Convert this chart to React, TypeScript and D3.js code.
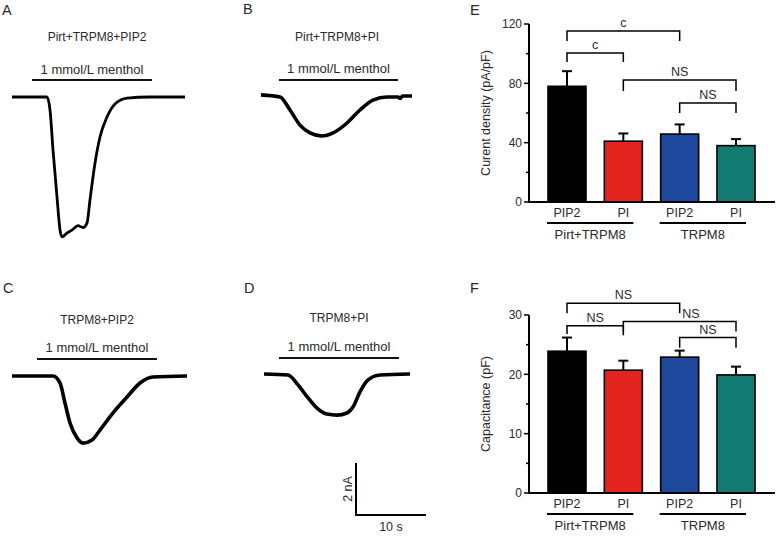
import * as d3 from 'd3';

// ---------------------------------------------------------------------------
// Data
// ---------------------------------------------------------------------------

// Current traces: [time (s), current (nA)]
const TRACE_A: [number, number][] = [
  [0, 0], [5.0, 0], [5.43, -0.5], [5.86, -2.04], [6.43, -3.85], [6.86, -5.12],
  [7.14, -5.38], [7.86, -5.23], [8.57, -5.12], [9.43, -4.95], [10.14, -5.02],
  [10.71, -4.85], [11.14, -3.96], [11.86, -2.54], [12.57, -1.54], [13.57, -0.77],
  [14.71, -0.27], [16.43, -0.04], [19.71, 0], [24.71, 0],
];
const TRACE_B: [number, number][] = [
  [0, 0.08], [2.71, 0], [4.14, -0.5], [5.57, -1.08], [7.0, -1.38], [8.71, -1.5],
  [10.29, -1.38], [12.29, -1.0], [14.14, -0.5], [16.0, -0.12], [18.0, 0],
  [19.57, 0], [19.9, -0.06], [20.2, 0.04], [21.57, 0.04],
];
const TRACE_C: [number, number][] = [
  [0, 0], [5.86, 0], [6.86, -0.27], [7.57, -1.04], [8.29, -1.81], [9.29, -2.38],
  [10.14, -2.58], [11.43, -2.46], [12.57, -2.08], [14.43, -1.42], [16.43, -0.81],
  [18.29, -0.27], [20.14, -0.04], [25.0, 0],
];
const TRACE_D: [number, number][] = [
  [0, 0], [3.43, -0.04], [4.86, -0.42], [6.29, -0.92], [7.57, -1.31], [9.0, -1.54],
  [10.43, -1.58], [11.86, -1.5], [12.71, -1.27], [13.71, -0.69], [14.86, -0.23],
  [16.57, -0.04], [20.86, 0],
];
const TRACE_TITLES = ['Pirt+TRPM8+PIP2', 'Pirt+TRPM8+PI', 'TRPM8+PIP2', 'TRPM8+PI'];
const MENTHOL: [number, number][] = [[2.86, 20], [2.57, 19.57], [3.57, 20.71], [2.14, 19.29]];
const SCALE_BAR = { seconds: 10, nA: 2 };

// Bar charts
const CATEGORIES = ['PIP2-a', 'PI-a', 'PIP2-b', 'PI-b'];
const CATEGORY_LABELS = ['PIP2', 'PI', 'PIP2', 'PI'];
const GROUPS = [
  { label: 'Pirt+TRPM8', from: 'PIP2-a', to: 'PI-a' },
  { label: 'TRPM8', from: 'PIP2-b', to: 'PI-b' },
];
const DENSITY = [78, 41, 45.8, 38];
const DENSITY_SEM = [10.2, 5.2, 6.5, 4.4];
const CAPACITANCE = [23.9, 20.7, 22.9, 19.9];
const CAPACITANCE_SEM = [2.3, 1.6, 1.1, 1.4];
const DENSITY_TICKS = [0, 40, 80, 120];
const CAPACITANCE_TICKS = [0, 10, 20, 30];

// [from, to, top, leftLegBottom, rightLegBottom, label, label position along bracket]
type Bracket = [string, string, number, number, number, string, number];
const DENSITY_BRACKETS: Bracket[] = [
  ['PIP2-a', 'PIP2-b', 115.3, 108.5, 108.5, 'c', 0.5],
  ['PIP2-a', 'PI-a', 100.5, 94.4, 94.4, 'c', 0.5],
  ['PI-a', 'PI-b', 82.2, 74.8, 74.8, 'NS', 0.5],
  ['PIP2-b', 'PI-b', 66.7, 60, 60, 'NS', 0.5],
];
const CAPACITANCE_BRACKETS: Bracket[] = [
  ['PIP2-a', 'PIP2-b', 32.0, 30.3, 30.3, 'NS', 0.5],
  ['PIP2-a', 'PI-a', 28.2, 26.8, 26.6, 'NS', 0.5],
  ['PI-a', 'PI-b', 28.9, 27.2, 27.2, 'NS', 0.6],
  ['PIP2-b', 'PI-b', 26.2, 24.5, 24.5, 'NS', 0.5],
];

// ---------------------------------------------------------------------------
// Style
// ---------------------------------------------------------------------------

const BAR_COLORS = ['#000000', '#e5231f', '#1e489c', '#137b72'];
const INK = '#111';
const TEXT = '#2a2a2a';
const FONT = '"Liberation Sans", Arial, sans-serif';
const PX_PER_S = 7;
const PX_PER_NA = 26;

// ---------------------------------------------------------------------------
// Trace panel
// ---------------------------------------------------------------------------

interface TraceProps {
  data: [number, number][];
  title: string;
  menthol: [number, number];
  x0: number;
  y0: number;
  titleX: number;
  titleY: number;
  mentholY: number;
  barY: number;
  width: number;
}

function Trace({ data, title, menthol, x0, y0, titleX, titleY, mentholY, barY, width }: TraceProps) {
  const x = d3.scaleLinear().domain([0, 1]).range([x0, x0 + PX_PER_S]);
  const y = d3.scaleLinear().domain([0, -1]).range([y0, y0 + PX_PER_NA]);
  const line = d3.line<[number, number]>()
    .x((d) => x(d[0]))
    .y((d) => y(d[1]))
    .curve(d3.curveMonotoneX);
  return (
    <g>
      <text x={titleX} y={titleY} textAnchor="middle" fontSize={12} fill={TEXT}>{title}</text>
      <text x={(x(menthol[0]) + x(menthol[1])) / 2} y={mentholY} textAnchor="middle" fontSize={13} fill={TEXT}>
        1 mmol/L menthol
      </text>
      <line x1={x(menthol[0])} x2={x(menthol[1])} y1={barY} y2={barY} stroke={INK} strokeWidth={2} />
      <path d={line(data) ?? ''} fill="none" stroke="#000" strokeWidth={width} strokeLinejoin="round" />
    </g>
  );
}

// ---------------------------------------------------------------------------
// Bar panel
// ---------------------------------------------------------------------------

interface BarPanelProps {
  values: number[];
  sem: number[];
  ticks: number[];
  brackets: Bracket[];
  yTop: number;
  yBottom: number;
  yLabel: string;
}

function BarPanel({ values, sem, ticks, brackets, yTop, yBottom, yLabel }: BarPanelProps) {
  const axisX = 529;
  const axisEnd = 775;
  const barW = 38;
  const max = ticks[ticks.length - 1];
  const y = d3.scaleLinear().domain([0, max]).range([yBottom, yTop]);
  const x = d3.scalePoint<string>().domain(CATEGORIES).range([567, 736]);
  const step = ticks[1] - ticks[0];
  const minor = d3.range(step / 2, max, step);
  return (
    <g fontFamily={FONT}>
      {/* bars */}
      {CATEGORIES.map((c, i) => {
        const cx = x(c) ?? 0;
        return (
          <g key={c}>
            <line x1={cx} x2={cx} y1={y(values[i])} y2={y(values[i] + sem[i])} stroke="#000" strokeWidth={2} />
            <line x1={cx - 5} x2={cx + 5} y1={y(values[i] + sem[i])} y2={y(values[i] + sem[i])} stroke="#000" strokeWidth={2} />
            <rect x={cx - barW / 2} y={y(values[i])} width={barW} height={y(0) - y(values[i])}
              fill={BAR_COLORS[i]} stroke="#000" strokeWidth={1.6} />
          </g>
        );
      })}
      {/* axes */}
      <line x1={axisX} x2={axisX} y1={y(max)} y2={y(0)} stroke="#000" strokeWidth={2} />
      <line x1={axisX - 1} x2={axisEnd} y1={y(0)} y2={y(0)} stroke="#000" strokeWidth={2} />
      {ticks.map((t) => (
        <g key={t}>
          <line x1={axisX - 5} x2={axisX} y1={y(t)} y2={y(t)} stroke="#000" strokeWidth={1.5} />
          <text x={axisX - 7} y={y(t)} dy="0.36em" textAnchor="end" fontSize={12} fill={TEXT}>{t}</text>
        </g>
      ))}
      {minor.map((t) => (
        <line key={t} x1={axisX - 3} x2={axisX} y1={y(t)} y2={y(t)} stroke="#000" strokeWidth={1.5} />
      ))}
      <text transform={`translate(490,${(y(0) + y(max)) / 2}) rotate(-90)`} textAnchor="middle" fontSize={12.5} fill={TEXT}>
        {yLabel}
      </text>
      {/* category + group labels */}
      {CATEGORIES.map((c, i) => (
        <text key={c} x={x(c)} y={y(0) + 15} textAnchor="middle" fontSize={12.5} fill={TEXT}>{CATEGORY_LABELS[i]}</text>
      ))}
      {GROUPS.map((g) => {
        const a = (x(g.from) ?? 0) - 20;
        const b = (x(g.to) ?? 0) + 10;
        return (
          <g key={g.label}>
            <line x1={a} x2={b} y1={y(0) + 21} y2={y(0) + 21} stroke="#000" strokeWidth={2} />
            <text x={(a + b) / 2} y={y(0) + 37} textAnchor="middle" fontSize={13} fill={TEXT}>{g.label}</text>
          </g>
        );
      })}
      {/* significance brackets */}
      {brackets.map(([from, to, top, lb, rb, label, at], i) => {
        const a = x(from) ?? 0;
        const b = x(to) ?? 0;
        return (
          <g key={i}>
            <path d={`M${a},${y(lb)}V${y(top)}H${b}V${y(rb)}`} fill="none" stroke="#000" strokeWidth={1.5} />
            <text x={a + (b - a) * at} y={y(top) - 4} textAnchor="middle" fontSize={12.5} fill={TEXT}>{label}</text>
          </g>
        );
      })}
    </g>
  );
}

// ---------------------------------------------------------------------------
// App
// ---------------------------------------------------------------------------

export default function App() {
  const sbX = 356;
  const sbY = 515;
  return (
    <svg width={777} height={536} style={{ position: 'absolute', left: 0, top: 0, background: '#fff' }}
      fontFamily={FONT}>
      {/* panel letters */}
      <g fontSize={14.5} fill={TEXT}>
        <text x={2} y={15}>A</text>
        <text x={243} y={14}>B</text>
        <text x={3} y={293}>C</text>
        <text x={244} y={293}>D</text>
        <text x={470} y={15}>E</text>
        <text x={470} y={293}>F</text>
      </g>

      <Trace data={TRACE_A} title={TRACE_TITLES[0]} menthol={MENTHOL[0]} x0={12} y0={97}
        titleX={97} titleY={41} mentholY={74} barY={80} width={2.8} />
      <Trace data={TRACE_B} title={TRACE_TITLES[1]} menthol={MENTHOL[1]} x0={261} y0={97}
        titleX={337} titleY={41} mentholY={73} barY={80} width={3.6} />
      <Trace data={TRACE_C} title={TRACE_TITLES[2]} menthol={MENTHOL[2]} x0={12} y0={376}
        titleX={97} titleY={324} mentholY={352} barY={359} width={3.6} />
      <Trace data={TRACE_D} title={TRACE_TITLES[3]} menthol={MENTHOL[3]} x0={264} y0={374}
        titleX={339} titleY={322} mentholY={351} barY={358} width={3.6} />

      {/* scale bar */}
      <path d={`M${sbX},${sbY - SCALE_BAR.nA * PX_PER_NA}V${sbY}H${sbX + SCALE_BAR.seconds * PX_PER_S}`}
        fill="none" stroke="#000" strokeWidth={2} />
      <text transform={`translate(352,${sbY - (SCALE_BAR.nA * PX_PER_NA) / 2}) rotate(-90)`} textAnchor="middle"
        fontSize={12.5} fill={TEXT}>{`${SCALE_BAR.nA} nA`}</text>
      <text x={sbX + (SCALE_BAR.seconds * PX_PER_S) / 2} y={531} textAnchor="middle" fontSize={12.5} fill={TEXT}>
        {`${SCALE_BAR.seconds} s`}
      </text>

      <BarPanel values={DENSITY} sem={DENSITY_SEM} ticks={DENSITY_TICKS} brackets={DENSITY_BRACKETS}
        yTop={24} yBottom={202} yLabel="Curent density (pA/pF)" />
      <BarPanel values={CAPACITANCE} sem={CAPACITANCE_SEM} ticks={CAPACITANCE_TICKS} brackets={CAPACITANCE_BRACKETS}
        yTop={315} yBottom={493} yLabel="Capacitance (pF)" />
    </svg>
  );
}
